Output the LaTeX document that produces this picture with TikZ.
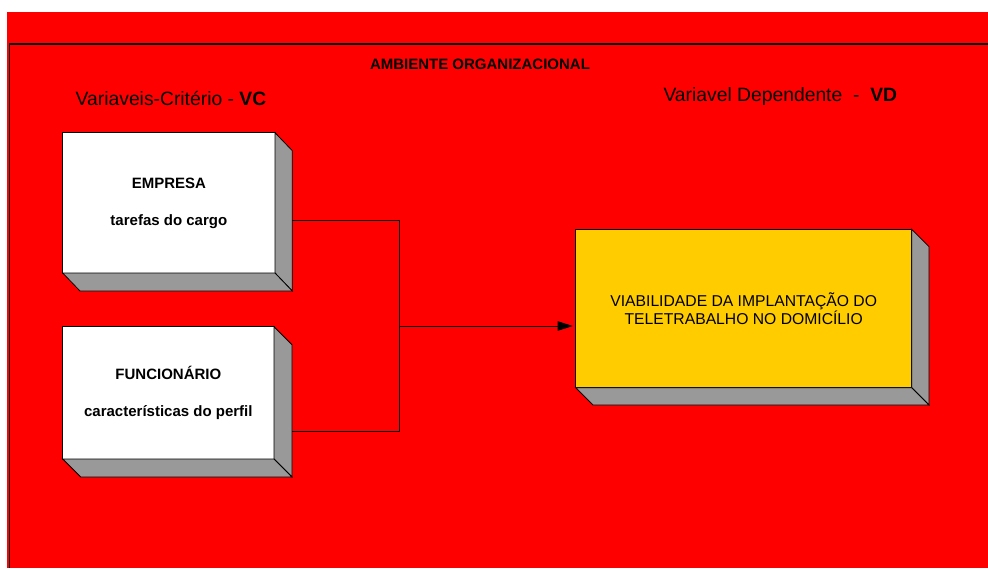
\documentclass[tikz,border=0pt]{standalone}
\usepackage{fontspec}
\setmainfont{Liberation Sans}
\usetikzlibrary{arrows.meta,calc}
\definecolor{envred}{HTML}{FF0000}
\definecolor{sidegray}{HTML}{999999}
\definecolor{goldbox}{HTML}{FFCC00}

% gray depth faces (right and bottom) of a raised box
\newcommand\depthfaces[3]{%
  \filldraw[side] (#1.north east) -- ++(#2,#3) -- ($(#1.south east)+(#2,#3)$) -- (#1.south east) -- cycle;
  \filldraw[side] (#1.south west) -- (#1.south east) -- ($(#1.south east)+(#2,#3)$) -- ($(#1.south west)+(#2,#3)$) -- cycle;}

\begin{document}
\begin{tikzpicture}[x=1pt,y=-1pt,
  front/.style={draw=black, line width=0.8pt, inner sep=0pt, outer sep=0pt, anchor=north west, align=center},
  boxtext/.style={font=\bfseries\fontsize{15}{37}\selectfont},
  side/.style={fill=sidegray, draw=black, line width=0.8pt, line join=miter},
  link/.style={draw=black, line width=0.9pt},
  heading/.style={anchor=base, font=\fontsize{19.3}{23}\selectfont}]

\useasboundingbox (0,0) rectangle (988,568);

% organisational environment
\fill[envred] (7,12) rectangle (988,568);
\draw[line width=1.2pt] (988,44) -- (9.5,44) -- (9.5,568);
\node[anchor=base, font=\bfseries\fontsize{15}{18}\selectfont] (amb) at (480,69) {AMBIENTE ORGANIZACIONAL};

% column headings
\node[heading] (vc) at (171,105) {Variaveis-Critério - \textbf{VC}};
\node[heading] (vd) at (780.3,101.7) {Variavel Dependente~~-~~\textbf{VD}};

% criterion variables
\node[front, boxtext, fill=white, minimum width=212.3pt, minimum height=140.3pt] (emp) at (62.7,132.7)
  {EMPRESA\\tarefas do cargo};
\depthfaces{emp}{17.3}{18}

\node[front, boxtext, fill=white, minimum width=211.3pt, minimum height=132.3pt] (fun) at (62.7,326.7)
  {FUNCIONÁRIO\\características do perfil};
\depthfaces{fun}{18}{18}

% dependent variable
\node[front, fill=goldbox, font=\fontsize{15.7}{18}\selectfont, minimum width=336pt, minimum height=158.4pt] (viab) at (575.7,229.3)
  {VIABILIDADE DA IMPLANTAÇÃO DO\\TELETRABALHO NO DOMICÍLIO};
\depthfaces{viab}{17.3}{17.3}

% connectors
\coordinate (empout) at ($(emp.east)+(17.3,17.8)$);
\coordinate (funout) at ($(fun.east)+(18,38.5)$);
\coordinate (join) at (399,326);
\draw[link] (empout) -| (join);
\draw[link] (funout) -| (join);
\draw[link, -{Triangle[length=15pt,width=9.5pt]}, shorten >=3pt] (join) -- (join -| viab.west);
\end{tikzpicture}
\end{document}
